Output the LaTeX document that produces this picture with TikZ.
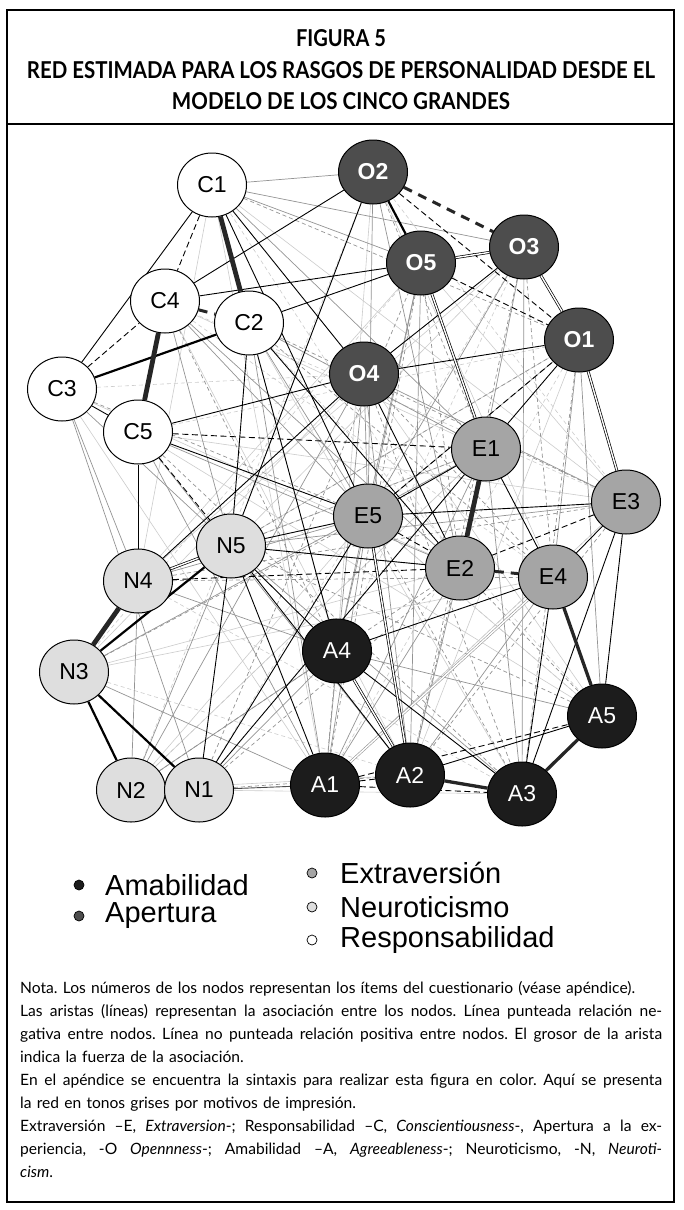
\documentclass[tikz,border=0pt]{standalone}
\usepackage{fontspec}
\setmainfont{Lato}
\newfontfamily\arialf{Liberation Sans}
\usetikzlibrary{shapes.geometric}
\definecolor{agray}{HTML}{1C1C1C}
\definecolor{ogray}{HTML}{4D4D4D}
\definecolor{egray}{HTML}{A5A5A5}
\definecolor{ngray}{HTML}{DEDEDE}
\pgfdeclarelayer{bgl}
\pgfdeclarelayer{edl}
\pgfsetlayers{bgl,edl,main}
\frenchspacing
\newcommand\jline[1]{\leavevmode\hbox to 642pt{\spaceskip=0.24em plus 1fil\relax #1}}
\begin{document}
\begin{tikzpicture}[x=1pt,y=-1pt,
  nd/.style={ellipse, draw=black, line width=1pt, minimum width=69pt, minimum height=64pt, inner sep=0pt, font=\arialf\fontsize{23}{23}\selectfont},
  Cn/.style={nd, fill=white},
  Nn/.style={nd, fill=ngray},
  En/.style={nd, fill=egray},
  On/.style={nd, fill=ogray, text=white, font=\arialf\bfseries\fontsize{23}{23}\selectfont},
  An/.style={nd, fill=agray, text=white},
  e0/.style={draw=black!20, line width=0.6pt},
  e0d/.style={e0, dash pattern=on 4pt off 3pt},
  e1/.style={draw=black!42, line width=0.7pt},
  e1d/.style={e1, dash pattern=on 4pt off 3pt},
  e2/.style={draw=black, line width=0.9pt},
  e2d/.style={e2, dash pattern=on 6pt off 3.5pt},
  e3/.style={draw=black, line width=2.2pt},
  e4/.style={draw=black!85, line width=3.3pt},
  e5/.style={draw=black!85, line width=4.8pt},
  ethd/.style={draw=black!85, line width=3pt, dash pattern=on 9pt off 7pt},
  edbl/.style={draw=black, double=white, double distance=1.4pt, line width=0.7pt},
  edblg/.style={draw=black!40, double=white, double distance=1.4pt, line width=0.6pt},
  bul/.style={circle, draw=black, line width=0.7pt, minimum size=10pt, inner sep=0pt},
  leg/.style={anchor=west, inner sep=0pt, font=\arialf\fontsize{29}{29}\selectfont},
  ttl/.style={inner sep=0pt, font=\bfseries}
]
\useasboundingbox (0,0) rectangle (683,1210);
\begin{pgfonlayer}{bgl}
\fill[white] (0,0) rectangle (683,1210);
\end{pgfonlayer}

% frame
\draw[line width=2.2pt] (7,10) rectangle (674,1202);
\draw[line width=2pt] (7,124) -- (674,124);

% title
\node[ttl] (t1) at (341,38) {\resizebox{90pt}{17pt}{FIGURA 5}};
\node[ttl] (t2) at (341,70) {\resizebox{628pt}{17pt}{RED ESTIMADA PARA LOS RASGOS DE PERSONALIDAD DESDE EL}};
\node[ttl] (t3) at (341,101) {\resizebox{338pt}{17pt}{MODELO DE LOS CINCO GRANDES}};

% nodes
\node[Cn] (C1) at (212,185) {C1};
\node[On] (O2) at (373,172) {O2};
\node[On] (O5) at (421,263) {O5};
\node[On] (O3) at (524,247) {O3};
\node[On] (O1) at (579,340) {O1};
\node[Cn] (C4) at (165,301) {C4};
\node[Cn] (C2) at (249,323) {C2};
\node[Cn] (C3) at (62,389) {C3};
\node[Cn] (C5) at (138,432) {C5};
\node[On] (O4) at (364,374) {O4};
\node[En] (E1) at (486,449) {E1};
\node[En] (E5) at (368,516) {E5};
\node[En] (E3) at (626,502) {E3};
\node[Nn] (N5) at (231,546) {N5};
\node[En] (E2) at (460,568) {E2};
\node[En] (E4) at (553,577) {E4};
\node[Nn] (N4) at (138,581) {N4};
\node[Nn] (N3) at (74,672) {N3};
\node[An] (A4) at (337,651) {A4};
\node[An] (A5) at (602,716) {A5};
\node[An] (A1) at (325,785) {A1};
\node[An] (A2) at (410,775) {A2};
\node[An] (A3) at (522,794) {A3};
\node[Nn] (N2) at (131,790) {N2};
\node[Nn] (N1) at (199,790) {N1};

\begin{pgfonlayer}{edl}
% very light web
\foreach \a/\b in {C1/A1,C1/N4,C3/A1,C3/E2,C4/A2,C2/A3,C5/E3,N2/E5,N2/E1,N3/E4,N3/O4,N4/O5,N5/O3,O2/A4,O2/E4,O5/E3,O3/N4,O1/N5,O1/A2,E1/N4,E3/A1,E4/N5,A5/E5,A5/C5,A3/N1,A2/N2,E2/N3,C4/E1,C1/E3,O4/A5}
  \draw[e0] (\a) -- (\b);
\foreach \a/\b in {C1/A4,C3/O4,C4/E4,C2/A5,C5/O1,N2/O2,N3/A2,N4/A3,N5/O2,O5/N3,O3/N1,O1/A1,E1/N2,E3/C4,E5/A5,E2/C1,A4/O3,A1/E3,C2/E1,O2/E3}
  \draw[e0d] (\a) -- (\b);
% mid gray web
\foreach \a/\b in {C1/O2,C1/O5,C1/O3,C2/E1,C2/E5,C5/E2,C5/A2,C4/E5,C4/N5,C3/N5,C3/N4,C3/N1,N4/A4,N4/E5,N2/N5,N2/O4,N2/A4,N3/E1,N3/A1,N1/A4,O4/A1,O4/A2,O4/E5,O5/E5,O5/A2,O5/A4,O2/E2,O3/E5,O3/E2,O3/A3,O1/E4,O1/A5,O1/E5,E1/A3,E1/A1,E3/O4,E3/N5,E2/A2,E2/A1,E4/A2,E5/A4,E5/A1,A4/A5,N5/A3,C2/A1,C5/A1,C4/E2,C1/E1,O2/E5,N4/N2}
  \draw[e1] (\a) -- (\b);
\foreach \a/\b in {C1/O1,C2/E4,C5/A3,C4/A4,C3/E5,N4/E4,N2/E2,N1/O5,N1/E2,N3/E5,N5/O1,O4/E4,O4/A3,O5/E2,O5/A1,O3/E4,O2/E1,O1/A3,E1/A2,E3/N4,E3/A2,E5/A3,A5/N5,E2/A5,O3/A2,C2/E3,A4/A1,N1/A2,N5/E1}
  \draw[e1d] (\a) -- (\b);
\draw[edblg] (E4) -- (A1);
% black thin edges
\foreach \a/\b in {C1/C3,C4/O2,C4/O5,C2/O5,C1/O4,C5/O4,O2/N5,O3/O4,O1/O4,O1/E1,O4/E2,O4/N4,C3/C5,N4/C5,N1/N5,N1/E5,N1/E1,N5/E5,N5/E2,N5/A4,N5/A2,E5/E3,E5/E1,C5/E5,C2/A4,C2/N5,C2/E2,A4/E4,A4/A3,A2/A5,A3/E4,E3/A3,E3/A5,E3/E4,E1/E4,C1/E5,N5/A1}
  \draw[e2] (\a) -- (\b);
\draw[e2,draw=black!70] (N1) -- (A1);
\foreach \a/\b in {C1/C4,C3/C4,C5/N5,C5/E1,N4/E2,E5/E2,E3/E2,O2/O1,O5/O1,A1/A2,A1/A3,A1/A5,E5/O1}
  \draw[e2d] (\a) -- (\b);
% double edges
\foreach \a/\b in {O5/E1,O3/O1,O1/E3,O5/O3,N4/N5,E5/A2,A4/A2}
  \draw[edbl] (\a) -- (\b);
% strong edges
\draw[e3] (C3) -- (C2);
\draw[e3] (N3) -- (N5);
\draw[e3] (N3) -- (N1);
\draw[e3] (N3) -- (N2);
\draw[e3] (O2) -- (O5);
\draw[e4] (E4) -- (A5);
\draw[e4] (A2) -- (A3);
\draw[e4] (A5) -- (A3);
\draw[e5] (C1) -- (C2);
\draw[e5] (C4) -- (C5);
\draw[e5] (N4) -- (N3);
\draw[e5] (E1) -- (E2);
\draw[e5] (N2) -- (N1);
\draw[ethd] (O2) -- (O3);
\draw[ethd] (C4) -- (C2);
\draw[ethd] (E2) -- (E4);
\end{pgfonlayer}

% legend
\node[bul, fill=agray] (b1) at (79,885) {};
\node[leg] (l1) at (105,885) {Amabilidad};
\node[bul, fill=ogray] (b2) at (79,916) {};
\node[leg] (l2) at (105,916) {Apertura};
\node[bul, fill=egray] (b3) at (312,873) {};
\node[leg] (l3) at (340,873) {Extraversión};
\node[bul, fill=ngray] (b4) at (312,907) {};
\node[leg] (l4) at (340,907) {Neuroticismo};
\node[bul, fill=white] (b5) at (312,940) {};
\node[leg] (l5) at (340,940) {Responsabilidad};

% note
\node[anchor=north west, inner sep=0pt, text width=642pt, align=left, font=\fontsize{15.6}{23}\selectfont] (nota) at (20,981) {Nota. Los números de los nodos representan los ítems del cuestionario (véase apéndice).\\
\jline{Las aristas (líneas) representan la asociación entre los nodos. Línea punteada relación ne-}\\
\jline{gativa entre nodos. Línea no punteada relación positiva entre nodos. El grosor de la arista}\\
indica la fuerza de la asociación.\\
\jline{En el apéndice se encuentra la sintaxis para realizar esta figura en color. Aquí se presenta}\\
la red en tonos grises por motivos de impresión.\\
\jline{Extraversión –E, \textit{Extraversion}-; Responsabilidad –C, \textit{Conscientiousness}-, Apertura a la ex-}\\
\jline{periencia, -O \textit{Opennness}-; Amabilidad –A, \textit{Agreeableness}-; Neuroticismo, -N, \textit{Neuroti-}}\\
\textit{cism}.};
\end{tikzpicture}
\end{document}
